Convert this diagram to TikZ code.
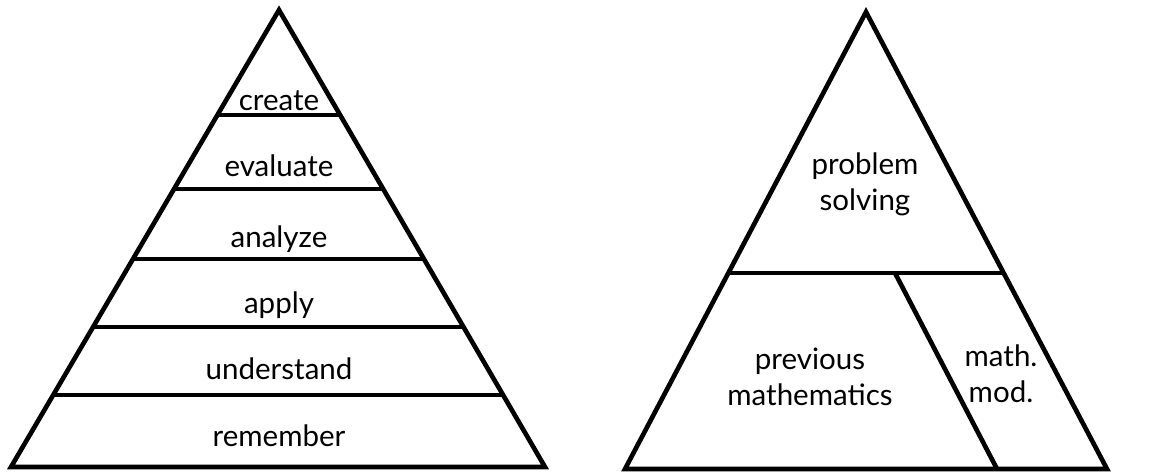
\documentclass[tikz,border=0pt]{standalone}
\usepackage{fontspec}
\setmainfont{Lato}
\usetikzlibrary{calc}

\begin{document}
\begin{tikzpicture}[x=0.025cm, y=-0.025cm, edge/.style={draw, line width=3.3pt, line join=miter}, lvl/.style={font=\fontsize{21}{25.5}\selectfont, inner sep=0pt, anchor=base, align=center}]
\useasboundingbox (0,0) rectangle (1159,473);
% left pyramid
\coordinate (la) at (279,10); \coordinate (ll) at (11,467); \coordinate (lr) at (545,467);
\draw[edge] (la) -- (ll) -- (lr) -- cycle;
\foreach \t in {0.2298,0.3917,0.5449,0.6937,0.8425}
  \draw[edge] ($(la)!\t!(ll)$) -- ($(la)!\t!(lr)$);
\node[lvl] (create) at (279,110) {create};
\node[lvl] (evaluate) at (279,177) {evaluate};
\node[lvl] (analyze) at (279,247) {analyze};
\node[lvl] (apply) at (279,313) {apply};
\node[lvl] (understand) at (279,379) {understand};
\node[lvl] (remember) at (279,446) {remember};
% right pyramid (base anchor sits on the last line)
\coordinate (ra) at (866,12); \coordinate (rl) at (625,469); \coordinate (rr) at (1107,469);
\draw[edge] (ra) -- (rl) -- (rr) -- cycle;
\draw[edge] ($(ra)!0.5711!(rl)$) -- ($(ra)!0.5711!(rr)$);
\coordinate (sepT) at (895,273); \coordinate (sepB) at (997,469);
\draw[edge] (sepT) -- (sepB);
\node[lvl] (solving) at (865,210) {problem\\solving};
\node[lvl] (prevmath) at (810,405) {previous\\mathematics};
\node[lvl] (mathmod) at (1001,402) {math.\\mod.};
\end{tikzpicture}
\end{document}
